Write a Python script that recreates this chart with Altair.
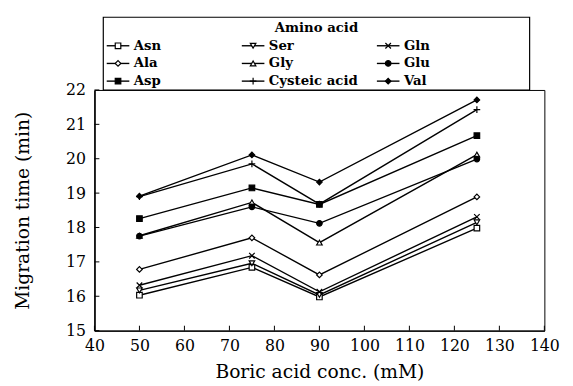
import altair as alt
import pandas as pd

# ---- data ----
boric = [50, 75, 90, 125]

asn = [16.03, 16.84, 15.98, 17.98]
ala = [16.78, 17.70, 16.62, 18.89]
asp = [18.26, 19.15, 18.67, 20.67]
ser = [16.17, 16.96, 16.04, 18.15]
gly = [17.76, 18.73, 17.56, 20.12]
cys = [18.90, 19.85, 18.68, 21.43]
gln = [16.32, 17.18, 16.13, 18.31]
glu = [17.75, 18.60, 18.12, 19.99]
val = [18.91, 20.11, 19.32, 21.71]

series_names = ["Asn", "Ala", "Asp", "Ser", "Gly", "Cysteic acid", "Gln", "Glu", "Val"]
series_values = [asn, ala, asp, ser, gly, cys, gln, glu, val]

# legend order (row-major, 3 columns)
legend_order = ["Asn", "Ser", "Gln", "Ala", "Gly", "Glu", "Asp", "Cysteic acid", "Val"]
legend_title = ["Amino acid"]

y_ticks = [15, 16, 17, 18, 19, 20, 21, 22]
x_ticks = [40, 50, 60, 70, 80, 90, 100, 110, 120, 130, 140]

X_PATH = "M-1,-1L1,1M-1,1L1,-1"
PLUS_PATH = "M-1.2,0L1.2,0M0,-1.2L0,1.2"
shapes = {
    "Asn": "square", "Ala": "diamond", "Asp": "square",
    "Ser": "triangle-down", "Gly": "triangle-up", "Cysteic acid": PLUS_PATH,
    "Gln": X_PATH, "Glu": "circle", "Val": "diamond",
}
fills = {
    "Asn": "white", "Ala": "white", "Asp": "black",
    "Ser": "white", "Gly": "white", "Cysteic acid": "white",
    "Gln": "white", "Glu": "black", "Val": "black",
}

rows = []
for name, vals in zip(series_names, series_values):
    for c, t in zip(boric, vals):
        rows.append({"series": name, "conc": c, "time": t})
df = pd.DataFrame(rows)

PLOT_W, PLOT_H = 458, 245
FONT = "DejaVu Serif"

shape_scale = alt.Scale(domain=series_names, range=[shapes[s] for s in series_names])
fill_scale = alt.Scale(domain=series_names, range=[fills[s] for s in series_names])

xs = alt.Scale(domain=[40, 140], nice=False, zero=False)
ys = alt.Scale(domain=[15, 22], nice=False, zero=False)

x_axis = alt.Axis(values=x_ticks, title="Boric acid conc. (mM)", labelPadding=7,
                  titlePadding=10, labelOverlap=False, labelFlush=False)
y_axis = alt.Axis(values=y_ticks, title="Migration time (min)", labelPadding=9,
                  titlePadding=34, labelOverlap=False, labelFlush=False)

lines = alt.Chart(df).mark_line(color="black", strokeWidth=1.4).encode(
    x=alt.X("conc:Q", scale=xs, axis=x_axis),
    y=alt.Y("time:Q", scale=ys, axis=y_axis),
    detail="series:N",
)

points = alt.Chart(df).mark_point(filled=True, stroke="black", strokeWidth=1.2,
                                  size=32, opacity=1).encode(
    x=alt.X("conc:Q", scale=xs, axis=x_axis),
    y=alt.Y("time:Q", scale=ys, axis=y_axis),
    shape=alt.Shape("series:N", scale=shape_scale, legend=None),
    fill=alt.Fill("series:N", scale=fill_scale, legend=None),
)

ytick_df = pd.DataFrame({"time": y_ticks})
yticks = alt.Chart(ytick_df).mark_rule(color="black", strokeWidth=1).encode(
    y=alt.Y("time:Q", scale=ys, axis=y_axis),
    x=alt.value(0), x2=alt.value(5),
)
xtick_df = pd.DataFrame({"conc": x_ticks})
xticks = alt.Chart(xtick_df).mark_rule(color="black", strokeWidth=1).encode(
    x=alt.X("conc:Q", scale=xs, axis=x_axis),
    y=alt.value(PLOT_H), y2=alt.value(PLOT_H - 5),
)

main = alt.layer(lines, points, yticks, xticks).properties(width=PLOT_W, height=PLOT_H)

# ---- legend panel ----
LEG_H = 74
leg_df = pd.DataFrame({
    "series": legend_order,
    "col": [i % 3 for i in range(len(legend_order))],
    "row": [i // 3 for i in range(len(legend_order))],
})
lx = alt.Scale(domain=[0, 2], range=[24, 299])
ly = alt.Scale(domain=[0, 2], range=[29, 65])

leg_lines = alt.Chart(leg_df).mark_rule(color="black", strokeWidth=1.4,
                                        xOffset=-11.5, x2Offset=11.5).encode(
    x=alt.X("col:Q", scale=lx, axis=None),
    x2="col:Q",
    y=alt.Y("row:Q", scale=ly, axis=None),
)
leg_points = alt.Chart(leg_df).mark_point(filled=True, stroke="black", strokeWidth=1.2,
                                          size=32, opacity=1).encode(
    x=alt.X("col:Q", scale=lx, axis=None),
    y=alt.Y("row:Q", scale=ly, axis=None),
    shape=alt.Shape("series:N", scale=shape_scale, legend=None),
    fill=alt.Fill("series:N", scale=fill_scale, legend=None),
)
leg_text = alt.Chart(leg_df).mark_text(align="left", baseline="middle", dx=16,
                                       font=FONT, fontSize=13.5, fontWeight="bold",
                                       color="black").encode(
    x=alt.X("col:Q", scale=lx, axis=None),
    y=alt.Y("row:Q", scale=ly, axis=None),
    text="series:N",
)
title_df = pd.DataFrame({"t": legend_title})
leg_title = alt.Chart(title_df).mark_text(align="center", baseline="middle",
                                          font=FONT, fontSize=13.5, fontWeight="bold",
                                          color="black").encode(
    text="t:N", x=alt.value(226), y=alt.value(11),
)
leg_box = alt.Chart(title_df).mark_rect(fillOpacity=0, stroke="black", strokeWidth=1.2).encode(
    x=alt.value(9), x2=alt.value(443), y=alt.value(0), y2=alt.value(LEG_H),
)

legend = alt.layer(leg_box, leg_lines, leg_points, leg_text, leg_title).properties(
    width=PLOT_W, height=LEG_H, view=alt.ViewBackground(strokeOpacity=0)
)

chart = alt.vconcat(legend, main, spacing=0, bounds="flush").configure_view(
    stroke="black", strokeWidth=1
).configure_axis(
    grid=False, domainColor="black", domainWidth=1.5, tickSize=0,
    labelFont=FONT, labelFontSize=16, labelColor="black",
    titleFont=FONT, titleFontSize=19, titleFontWeight="normal", titleColor="black",
)

chart.save("out.html", embed_options={"renderer": "svg", "actions": False})
